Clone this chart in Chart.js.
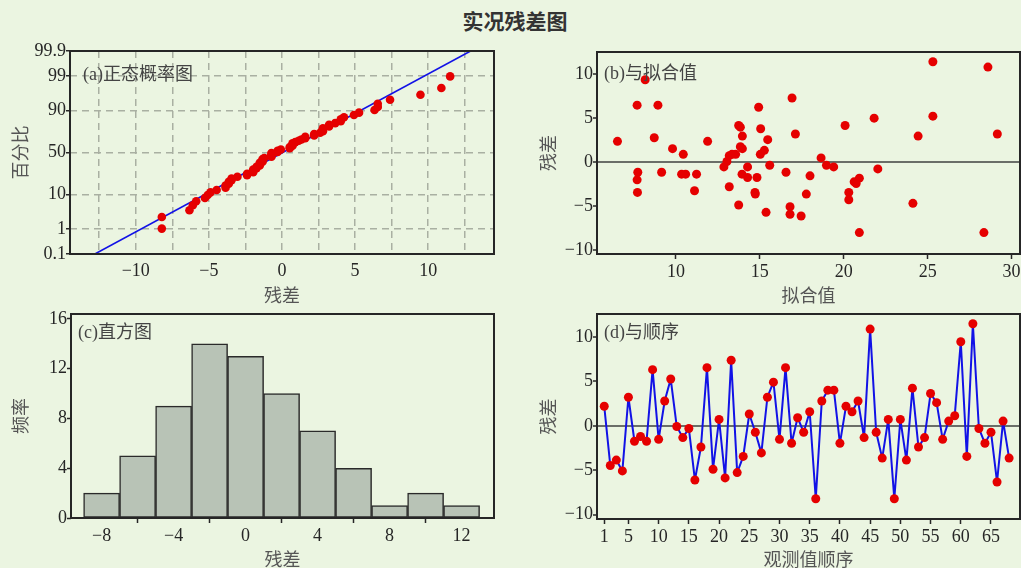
<!DOCTYPE html>
<html>
<head>
<meta charset="utf-8">
<script src="https://cdn.jsdelivr.net/npm/chart.js@4"></script>
<style>
html,body{margin:0;padding:0;background:#ebf5e1;}
body{width:1021px;height:568px;overflow:hidden;position:relative;}
#title{position:absolute;left:0;top:7px;width:1030px;text-align:center;font:bold 21px 'Noto Sans CJK SC';color:#333;line-height:26px;}
canvas{position:absolute;}
</style>
</head>
<body>
<div id="title">实况残差图</div>
<canvas id="cA" width="510" height="278" style="left:0;top:30px"></canvas>
<canvas id="cB" width="530" height="278" style="left:510px;top:30px"></canvas>
<canvas id="cC" width="510" height="268" style="left:0;top:300px"></canvas>
<canvas id="cD" width="530" height="268" style="left:510px;top:300px"></canvas>
<script>
// residuals in observation order (panel d)
const residByOrder = [2.2,-4.47,-3.86,-5.08,3.22,-1.74,-1.21,-1.74,6.33,-1.52,
  2.8,5.27,-0.08,-1.33,-0.3,-6.1,-2.39,6.55,-4.89,0.72,
  -5.87,7.39,-5.27,-3.45,1.33,-0.72,-3.05,3.22,4.92,-1.52,
  6.55,-1.97,0.91,-0.72,1.59,-8.22,2.8,4.02,4.02,-1.97,
  2.2,1.59,2.8,-1.33,10.9,-0.72,-3.64,0.72,-8.22,0.72,
  -3.86,4.24,-2.39,-1.33,3.64,2.61,-1.52,0.53,1.14,9.47,
  -3.45,11.5,-0.3,-1.97,-0.72,-6.33,0.53,-3.64];

// residuals vs fitted values (panel b)
const fittedVals = [6.52,8.17,7.69,8.93,8.71,7.73,7.69,7.71,9.15,9.80,
  10.44,10.34,10.58,11.11,11.23,11.89,12.86,13.04,13.18,13.34,
  13.56,13.18,13.74,13.74,13.84,13.96,13.84,13.96,13.94,14.27,
  14.27,14.83,14.71,14.73,14.93,15.05,15.03,15.27,15.47,15.59,
  15.37,16.56,16.80,16.80,16.92,17.12,17.46,17.77,17.99,18.65,
  18.97,19.40,20.08,20.30,20.30,20.62,20.74,20.93,20.93,21.81,
  22.03,24.12,24.43,25.31,25.31,28.35,28.59,29.15];
const fittedResid = [2.37,9.36,6.47,6.47,2.78,-1.13,-1.99,-3.42,-1.13,1.54,
  0.90,-1.35,-1.35,-3.23,-1.35,2.37,-0.53,0.08,0.75,0.90,
  0.90,-2.78,-4.85,4.17,3.98,2.97,1.77,1.54,-1.35,-0.53,
  -1.73,-1.73,-3.42,-3.61,6.24,3.80,0.90,1.35,2.56,-0.34,
  -5.68,-1.13,-5.04,-5.90,7.29,3.20,-6.09,-3.61,-1.54,0.49,
  -0.34,-0.53,4.17,-3.42,-4.25,-2.22,-2.41,-1.80,-7.97,5.00,
  -0.75,-4.66,2.97,11.39,5.23,-7.97,10.79,3.20];

// histogram (panel c)
const binCenters = [-8,-6,-4,-2,0,2,4,6,8,10,12];
const binCounts = [2,5,9,14,13,10,7,4,1,2,1];

// normal probability plot (panel a)
const probTicks = [0.1,1,10,50,90,99,99.9];
const probLabels = ['0.1','1','10','50','90','99','99.9'];
const refLineX = [-12.8,12.9];
const refLineP = [0.1,99.9];

const ticksAX = [-12.5,-10,-7.5,-5,-2.5,0,2.5,5,7.5,10,12.5];
const ticksBX = [10,15,20,25,30];
const ticksResid = [-10,-5,0,5,10];
const ticksCX = [-8,-4,0,4,8,12];
const ticksCY = [0,4,8,12,16];
const ticksDX = [1,5,10,15,20,25,30,35,40,45,50,55,60,65];

const SERIF = "'Liberation Serif', 'Noto Sans CJK SC', serif";
const CJK = "'Noto Sans CJK SC', sans-serif";
const INK = '#262626';
const RED = '#e50000';
const BLUE = '#1212e6';

// inverse normal cdf (Acklam)
function probit(p){
  const a=[-39.69683028665376,220.9460984245205,-275.9285104469687,138.3577518672690,-30.66479806614716,2.506628277459239];
  const b=[-54.47609879822406,161.5858368580409,-155.6989798598866,66.80131188771972,-13.28068155288572];
  const c=[-0.007784894002430293,-0.3223964580411365,-2.400758277161838,-2.549732539343734,4.374664141464968,2.938163982698783];
  const d=[0.007784695709041462,0.3224671290700398,2.445134137142996,3.754408661907416];
  const pl=0.02425;
  let q,r;
  if(p<pl){ q=Math.sqrt(-2*Math.log(p)); return (((((c[0]*q+c[1])*q+c[2])*q+c[3])*q+c[4])*q+c[5])/((((d[0]*q+d[1])*q+d[2])*q+d[3])*q+1); }
  if(p>1-pl){ q=Math.sqrt(-2*Math.log(1-p)); return -(((((c[0]*q+c[1])*q+c[2])*q+c[3])*q+c[4])*q+c[5])/((((d[0]*q+d[1])*q+d[2])*q+d[3])*q+1); }
  q=p-0.5; r=q*q;
  return (((((a[0]*r+a[1])*r+a[2])*r+a[3])*r+a[4])*r+a[5])*q/(((((b[0]*r+b[1])*r+b[2])*r+b[3])*r+b[4])*r+1);
}
function minus(v){ return String(v).replace('-','\u2212'); }
function fixTicks(vals){ return s => { s.ticks = vals.map(v => ({value:v})); }; }

const boxPlugin = { id:'box', afterDraw(c){
  const a=c.chartArea, x=c.ctx; x.save(); x.strokeStyle=INK; x.lineWidth=2;
  x.strokeRect(a.left,a.top,a.right-a.left,a.bottom-a.top); x.restore(); } };
function tag(text,dx,dy){ return { id:'tag', afterDraw(c){
  const a=c.chartArea, x=c.ctx; x.save(); x.fillStyle='#444'; x.font='18px '+SERIF;
  x.textBaseline='middle'; x.fillText(text,a.left+dx,a.top+dy); x.restore(); } }; }

function xAxis(o){ return {
  type:'linear', min:o.min, max:o.max, offset:false,
  afterBuildTicks: fixTicks(o.ticks),
  afterFit: s => { s.height = o.h; },
  ticks:{ font:{family:SERIF,size:18}, color:INK, padding:2, maxRotation:0, autoSkip:false,
    callback: o.cb || (v => minus(v)) },
  grid: o.grid || { drawOnChartArea:false, drawTicks:true, tickLength:5, tickColor:INK, tickWidth:1.5 },
  border: o.border || {display:false},
  title:{display:true, text:o.title, color:'#555', font:{family:CJK,size:18,lineHeight:1}, padding:{top:0,bottom:o.tp}}
}; }
function yAxis(o){ return {
  type:'linear', min:o.min, max:o.max,
  afterBuildTicks: fixTicks(o.ticks),
  afterFit: s => { s.width = o.w; },
  ticks:{ font:{family:SERIF,size:18}, color:INK, padding:0, autoSkip:false,
    callback: o.cb || (v => minus(v)) },
  grid: o.grid || { drawOnChartArea:false, drawTicks:true, tickLength:4, tickColor:INK, tickWidth:1.5 },
  border: o.border || {display:false},
  title:{display:true, text:o.title, color:'#555', font:{family:CJK,size:18,lineHeight:1}, padding:{top:o.tp,bottom:0}}
}; }
function zeroGrid(){ return { drawOnChartArea:true, drawTicks:true, tickLength:4, tickColor:INK, tickWidth:1.5,
  lineWidth:2, color: ctx => (ctx.tick && ctx.tick.value === 0) ? '#6a6e68' : 'rgba(0,0,0,0)' }; }
const base = { responsive:false, animation:false, plugins:{legend:{display:false}, tooltip:{enabled:false}} };
const dashBorder = { display:false, dash:[7,5] };

// (a) normal probability plot
const sorted = residByOrder.slice().sort((p,q) => p-q);
const nObs = sorted.length;
const probPts = sorted.map((r,i) => ({x:r, y:probit((i+1-0.3)/(nObs+0.4))}));
new Chart(document.getElementById('cA'), {
  type:'scatter',
  data:{ datasets:[
    { data:probPts, pointRadius:4.3, pointBackgroundColor:RED, pointBorderWidth:0 },
    { type:'line', data:refLineX.map((x,i) => ({x, y:probit(refLineP[i]/100)})), borderColor:BLUE, borderWidth:1.6, pointRadius:0 }
  ]},
  options:{ ...base, layout:{padding:{left:0,top:21,right:16,bottom:0}},
    scales:{
      x: xAxis({min:-14.5,max:14.5,ticks:ticksAX,h:54,title:'残差',tp:4,border:dashBorder,
        cb: v => (v % 5 === 0 ? minus(v) : ''),
        grid:{ drawOnChartArea:true, color:'#a9b0a2', lineWidth:1.5, drawTicks:true, tickLength:4, tickColor:'rgba(0,0,0,0)' }}),
      y: yAxis({min:probit(0.001),max:probit(0.999),ticks:probTicks.map(p => probit(p/100)),w:70,title:'百分比',tp:11,border:dashBorder,
        cb: (v,i) => probLabels[i],
        grid:{ drawOnChartArea:true, color:'#a9b0a2', lineWidth:1.5, drawTicks:true, tickLength:4, tickColor:INK, tickWidth:1.5, tickBorderDash:[] }})
    } },
  plugins:[boxPlugin, tag('(a)正态概率图',13,24)]
});

// (b) residuals vs fitted
new Chart(document.getElementById('cB'), {
  type:'scatter',
  data:{ datasets:[{ data:fittedVals.map((f,i) => ({x:f, y:fittedResid[i]})), pointRadius:4.5, pointBackgroundColor:RED, pointBorderWidth:0 }]},
  options:{ ...base, layout:{padding:{left:0,top:22,right:20,bottom:0}},
    scales:{
      x: xAxis({min:5.3,max:30.5,ticks:ticksBX,h:54,title:'拟合值',tp:4}),
      y: yAxis({min:-10.4,max:12.5,ticks:ticksResid,w:87,title:'残差',tp:29,grid:zeroGrid()})
    } },
  plugins:[boxPlugin, tag('(b)与拟合值',7,22)]
});

// (c) histogram
new Chart(document.getElementById('cC'), {
  type:'bar',
  data:{ datasets:[{ data:binCenters.map((x,i) => ({x, y:binCounts[i]})), backgroundColor:'#b8c3b6',
    borderColor:'#2a2a2a', borderWidth:1.5, borderSkipped:false, barPercentage:1, categoryPercentage:1 }]},
  options:{ ...base, layout:{padding:{left:0,top:14,right:16,bottom:0}},
    scales:{
      x: xAxis({min:-9.7,max:13.8,ticks:ticksCX,h:50,title:'残差',tp:0}),
      y: yAxis({min:0,max:16.4,ticks:ticksCY,w:71,title:'频率',tp:11})
    } },
  plugins:[boxPlugin, tag('(c)直方图',7,19)]
});

// (d) residuals vs order
new Chart(document.getElementById('cD'), {
  type:'line',
  data:{ datasets:[{ data:residByOrder.map((r,i) => ({x:i+1, y:r})), borderColor:BLUE, borderWidth:2,
    borderJoinStyle:'round', pointRadius:4.5, pointBackgroundColor:RED, pointBorderWidth:0, tension:0 }]},
  options:{ ...base, layout:{padding:{left:0,top:14,right:20,bottom:0}},
    scales:{
      x: xAxis({min:-0.2,max:69.8,ticks:ticksDX,h:49,title:'观测值顺序',tp:0}),
      y: yAxis({min:-10.5,max:12.6,ticks:ticksResid,w:87,title:'残差',tp:29,grid:zeroGrid()})
    } },
  plugins:[boxPlugin, tag('(d)与顺序',7,19)]
});
</script>
</body>
</html>
